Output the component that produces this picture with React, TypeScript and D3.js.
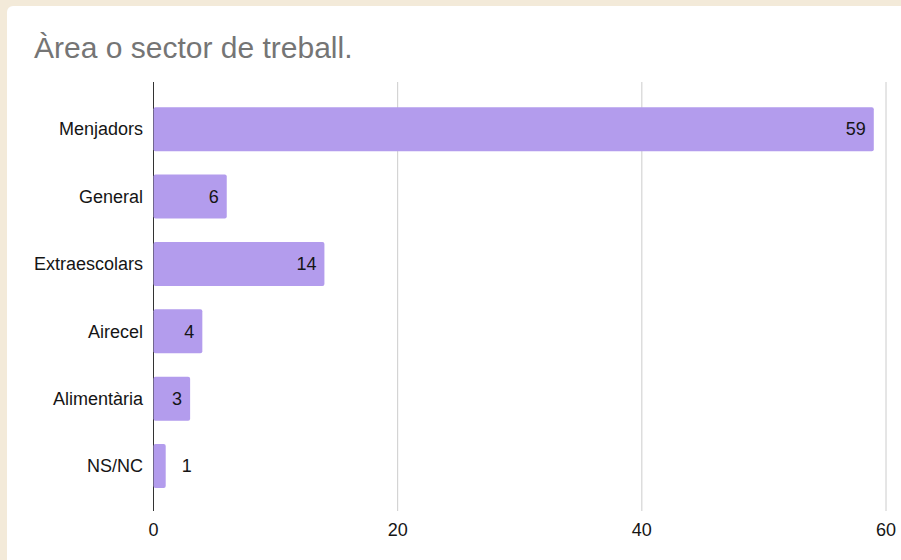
import React from "react";
import * as d3 from "d3";

const categories = ["Menjadors", "General", "Extraescolars", "Airecel", "Alimentària", "NS/NC"];
const values = [59, 6, 14, 4, 3, 1];
const xTicks = [0, 20, 40, 60];
const title = "Àrea o sector de treball.";

const W = 901;
const H = 560;

export default function App() {
  const x = d3.scaleLinear().domain([0, 60]).range([153.5, 886]);
  const y = d3.scaleBand<string>().domain(categories).range([95.5, 499.7]).paddingInner(0.347).paddingOuter(0.1735);
  const font = "'Liberation Sans', Arial, Helvetica, sans-serif";
  const fs = 18;
  const bw = y.bandwidth();
  return (
    <svg width={W} height={H} style={{ position: "absolute", left: 0, top: 0, display: "block" }}>
      <rect x={0} y={0} width={W} height={H} fill="#f3ead9" />
      <rect x={7} y={6} width={W} height={H} rx={6} fill="#ffffff" />
      <text x={34} y={58} fontFamily={font} fontSize={30} fill="#757575">{title}</text>
      {xTicks.filter((t) => t !== 0).map((t) => (
        <line key={t} x1={x(t)} x2={x(t)} y1={82} y2={511} stroke="#cccccc" strokeWidth={1} />
      ))}
      <line x1={x(0)} x2={x(0)} y1={82} y2={511} stroke="#333333" strokeWidth={1} />
      {categories.map((c, i) => {
        const v = values[i];
        const y0 = y(c)!;
        const x1 = x(v);
        const w = x1 - x(0);
        const inside = w > 30;
        return (
          <g key={c}>
            <rect x={x(0)} y={y0} width={w} height={bw} rx={2} fill="#b39ced" />
            <text x={143} y={y0 + bw / 2} dy="0.35em" textAnchor="end" fontFamily={font} fontSize={fs} fill="#151515">{c}</text>
            <text
              x={inside ? x1 - 8 : x1 + 16}
              y={y0 + bw / 2}
              dy="0.35em"
              textAnchor={inside ? "end" : "start"}
              fontFamily={font}
              fontSize={fs}
              fill="#151515"
            >
              {v}
            </text>
          </g>
        );
      })}
      {xTicks.map((t) => (
        <text key={t} x={x(t)} y={530} dy="0.35em" textAnchor="middle" fontFamily={font} fontSize={fs} fill="#151515">{t}</text>
      ))}
    </svg>
  );
}
